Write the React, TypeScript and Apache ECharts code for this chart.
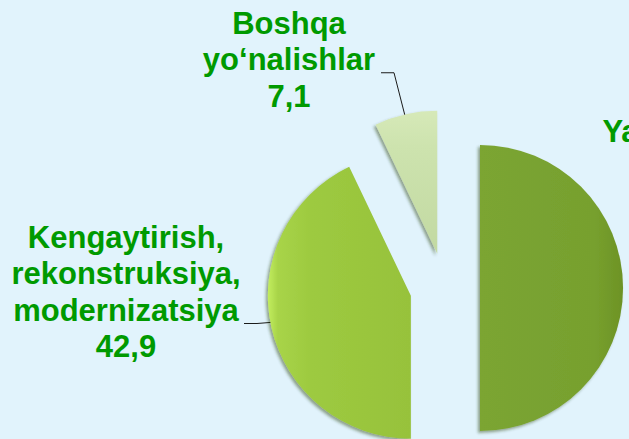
import { useEffect, useRef } from 'react';
import * as echarts from 'echarts';

const categories = [
  'Yangi qurilish',
  'Kengaytirish,\nrekonstruksiya,\nmodernizatsiya',
  'Boshqa\nyo‘nalishlar',
];
const values = [50.0, 42.9, 7.1];

// label boxes (text block top y, centre x), widths and bottom paddings used to place guide lines
const labelWidths = [240, 236, 184];
const labelPadBottom = [0, 63, 26];
const labelSpots = [
  { x: 704, y: 113, align: 'center' },
  { x: 126, y: 219, align: 'center' },
  { x: 289, y: 5, align: 'center' },
];

const fmt = (v: number) => v.toFixed(1).replace('.', ',');

export default function App() {
  const ref = useRef<HTMLDivElement>(null);
  useEffect(() => {
    if (!ref.current) return;
    const chart = echarts.init(ref.current, undefined, { renderer: 'svg' });
    const colors = [
      new echarts.graphic.LinearGradient(0, 0, 1, 0, [
        { offset: 0, color: '#7ba533' },
        { offset: 0.8, color: '#77a02e' },
        { offset: 1, color: '#6d9325' },
      ]),
      new echarts.graphic.LinearGradient(0, 0, 1, 0, [
        { offset: 0, color: '#c2ed5e' },
        { offset: 0.07, color: '#a8d448' },
        { offset: 0.3, color: '#9dca40' },
        { offset: 1, color: '#97c23b' },
      ]),
      new echarts.graphic.LinearGradient(0, 0, 0, 1, [
        { offset: 0, color: '#d6e9b8' },
        { offset: 0.25, color: '#cde3ae' },
        { offset: 1, color: '#c2d9a2' },
      ]),
    ];
    const common = {
      type: 'pie',
      center: [445, 288],
      radius: 143,
      startAngle: 90,
      clockwise: true,
      avoidLabelOverlap: false,
      emphasis: { disabled: true },
      silent: true,
    };
    chart.setOption({
      animation: false,
      backgroundColor: '#e1f3fc',
      series: [
        {
          ...common,
          z: 2,
          itemStyle: { color: 'rgba(0,0,0,0)' },
          label: {
            show: true,
            position: 'outside',
            formatter: (p: any) => `${p.name}\n${fmt(p.value)}`,
            color: '#009a00',
            fontFamily: 'Liberation Sans',
            fontWeight: 'bold',
            fontSize: 31,
            lineHeight: 36.5,
            overflow: 'none',
            backgroundColor: 'rgba(0,0,0,0)',
          },
          labelLine: {
            show: true,
            length: 8,
            length2: 13,
            smooth: false,
            lineStyle: { color: '#1a1a1a', width: 1 },
          },
          labelLayout: (params: any) => {
            const s = labelSpots[params.dataIndex];
            return { x: s.x, y: s.y, align: s.align, verticalAlign: 'top' };
          },
          data: categories.map((name, i) => ({
            name,
            value: values[i],
            label: {
              width: labelWidths[i],
              align: labelSpots[i].align,
              padding: [0, 0, labelPadBottom[i], 0],
            },
            labelLine: { show: i !== 0 },
          })),
        },
        {
          ...common,
          z: 3,
          selectedMode: 'multiple',
          selectedOffset: 35,
          itemStyle: {
            shadowColor: 'rgba(40,60,0,0.45)',
            shadowBlur: 3,
            shadowOffsetX: -2,
            shadowOffsetY: 2,
          },
          label: { show: false },
          labelLine: { show: false },
          data: categories.map((name, i) => ({
            name,
            value: values[i],
            selected: true,
            itemStyle: { color: colors[i] },
          })),
        },
      ],
    });
    return () => chart.dispose();
  }, []);
  return (
    <div
      ref={ref}
      style={{ position: 'absolute', left: 0, top: 0, width: 629, height: 439 }}
    />
  );
}
